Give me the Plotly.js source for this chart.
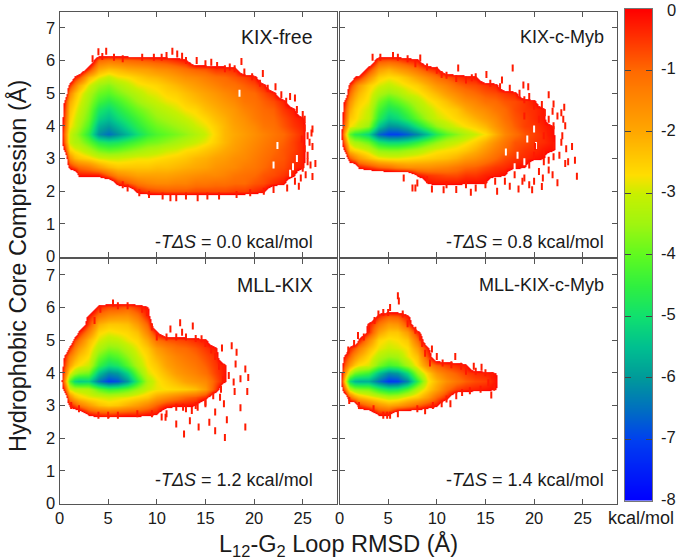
<!DOCTYPE html>
<html><head><meta charset="utf-8">
<script src="https://cdn.plot.ly/plotly-3.0.1.min.js"></script>
<style>html,body{margin:0;padding:0;background:#fff}</style></head>
<body><div id="chart" style="width:680px;height:559px"></div>
<script>
const E = 1; // empty bin
const rmsd = [0,0.5,1,1.5,2,3,4,5,6,7,8,9,10,11,12,13,14,15,16,17,18,19,20,21,22,23,24,25,26,27];
const compression = [6.5,6.25,6,5.75,5.5,5.25,5,4.75,4.5,4.25,4,3.75,3.5,3.25,3,2.75,2.5,2.25,2,1.75,1.5];
const panelNames = ['KIX-free','KIX-c-Myb','MLL-KIX','MLL-KIX-c-Myb'];
const entropyLabels = ['0.0','0.8','1.2','1.4'];
const xTicks = [0,5,10,15,20,25];
const yTicks = [0,1,2,3,4,5,6,7];
const barTicks = [0,-1,-2,-3,-4,-5,-6,-7,-8];
const barValues = [-8,-7.5,-7,-6.5,-6,-5.5,-5,-4.5,-4,-3.5,-3,-2.7,-2.5,-2,-1.5,-1,-0.5,0];
const energyLevels = [-8,-7,-6.5,-6,-5.5,-5,-4.5,-4,-3.5,-3,-2.7,-2,-1,0];
const energyColors = ['#0000ff','#0040f0','#0070c0','#009a9a','#00c090','#10e070','#30f040','#60fa20','#a0f510','#c8f000','#ffde00','#ffa800','#ff6a00','#ff0000'];

const kixFree = [
[],[],
[E,E,E,E,E,E,-1,-1.2,-1.1,-1,-.9,-.8,-.7,-.6,-.4,-.2],
[E,E,E,E,E,-.5,-2,-2.3,-2.2,-2,-1.9,-1.8,-1.6,-1.5,-1.3,-1.1,-.9,-.8,-.5,-.5,-.4],
[E,E,E,-.2,-.6,-2.2,-2.8,-3.1,-2.8,-2.7,-2.5,-2.3,-2.2,-2,-1.8,-1.6,-1.5,-1.3,-1.1,-1,-.8,-.6,-.3],
[E,E,-.4,-1.3,-2,-2.9,-3.5,-3.7,-3.4,-3.1,-2.8,-2.7,-2.6,-2.4,-2.2,-2,-1.8,-1.6,-1.4,-1.2,-1.1,-.9,-.7,-.3],
[E,E,-1.4,-2.2,-2.6,-3.3,-3.9,-4.1,-3.8,-3.5,-3.2,-2.9,-2.8,-2.6,-2.5,-2.3,-2.1,-1.9,-1.7,-1.5,-1.3,-1.1,-1,-.7,-.3],
[E,-.2,-2,-2.5,-2.8,-3.5,-4.3,-4.6,-4.3,-3.9,-3.5,-3.2,-3,-2.8,-2.7,-2.5,-2.3,-2.1,-1.9,-1.7,-1.5,-1.2,-1.1,-.9,-.7,-.3],
[E,-.5,-2.3,-2.7,-3,-3.7,-4.8,-5.1,-4.7,-4.3,-3.9,-3.6,-3.3,-3.1,-2.9,-2.7,-2.6,-2.3,-2.1,-1.9,-1.7,-1.4,-1.2,-1,-.9,-.5,-.2],
[E,-.7,-2.5,-2.9,-3.2,-3.9,-5.2,-5.5,-5.1,-4.7,-4.3,-3.9,-3.6,-3.4,-3.2,-3,-2.8,-2.6,-2.3,-2.1,-1.8,-1.6,-1.3,-1.1,-1,-.7,-.4,-.2],
[E,-.9,-2.7,-3,-3.4,-4.2,-5.7,-6,-5.6,-5.1,-4.6,-4.2,-3.9,-3.7,-3.5,-3.3,-3,-2.8,-2.5,-2.2,-1.9,-1.7,-1.5,-1.2,-1.1,-.8,-.5,-.3],
[E,-1.2,-3,-3.4,-3.7,-4.6,-6.1,-6.5,-6.1,-5.6,-5,-4.5,-4.2,-4,-3.8,-3.6,-3.3,-3,-2.6,-2.2,-2,-1.8,-1.6,-1.4,-1.2,-1,-.7,-.4],
[E,-1,-3,-3.3,-3.4,-4,-4.7,-4.9,-4.8,-4.5,-4.2,-3.9,-3.8,-3.6,-3.4,-3.2,-3,-2.8,-2.5,-2.2,-1.9,-1.7,-1.5,-1.3,-1.1,-.9,-.6,-.3],
[E,-.2,-2.5,-2.8,-2.9,-3.3,-3.8,-4,-3.9,-3.7,-3.5,-3.3,-3.2,-3,-2.9,-2.7,-2.6,-2.4,-2.2,-2,-1.8,-1.6,-1.4,-1.2,-1,-.8,-.6,-.3],
[E,E,-1.6,-2.2,-2.4,-2.6,-2.9,-3,-3,-2.9,-2.8,-2.8,-2.7,-2.6,-2.5,-2.4,-2.2,-2.1,-1.9,-1.8,-1.6,-1.5,-1.3,-1.1,-.9,-.8,-.5,-.3],
[E,E,-.3,-.7,-1,-1.3,-1.8,-2.2,-2.4,-2.4,-2.4,-2.4,-2.3,-2.3,-2.2,-2.1,-2,-1.9,-1.7,-1.6,-1.5,-1.3,-1.2,-1,-.8,-.7,-.4,-.2],
[E,E,E,E,-.2,-.2,-.2,-.9,-1.5,-1.7,-1.9,-1.9,-1.9,-1.9,-1.8,-1.7,-1.6,-1.5,-1.5,-1.4,-1.2,-1.1,-1,-.8,-.7,-.5,-.2],
[E,E,E,E,E,E,E,E,-.3,-.8,-1.2,-1.4,-1.5,-1.5,-1.4,-1.4,-1.2,-1.2,-1.1,-1.1,-1,-1,-.8,-.7,-.4,-.2],
[E,E,E,E,E,E,E,E,E,E,-.3,-.6,-.7,-.8,-.8,-.8,-.7,-.7,-.7,-.7,-.6,-.6,-.4,-.2],
[],[]];

const kixMyb = [
[],[],
[E,E,E,E,E,E,-.7,-.8,-.7,-.4,-.2],
[E,E,E,E,E,-.5,-1.8,-2.1,-1.8,-1.5,-1.1,-.6,-.3],
[E,E,E,-.1,-.3,-1.6,-2.5,-2.7,-2.6,-2.3,-1.9,-1.5,-1.1,-.8,-.5,-.3,-.2],
[E,E,-.4,-1.2,-1.8,-2.5,-2.9,-3.1,-2.9,-2.7,-2.5,-2.1,-1.7,-1.4,-1,-.8,-.7,-.5,-.3],
[E,E,-1,-1.8,-2.2,-2.7,-3.3,-3.6,-3.4,-3,-2.8,-2.5,-2.2,-1.8,-1.5,-1.2,-1,-.8,-.7,-.5,-.3],
[E,-.2,-1.6,-2.2,-2.5,-2.8,-3.8,-4.3,-4,-3.6,-3.2,-2.8,-2.6,-2.3,-1.9,-1.6,-1.4,-1.1,-1,-.8,-.7,-.5,-.2],
[E,-.6,-2,-2.5,-2.7,-3,-4.2,-4.8,-4.6,-4.1,-3.5,-3.1,-2.8,-2.6,-2.4,-2,-1.7,-1.5,-1.2,-1,-.7,-.5,-.4,-.2],
[E,-.8,-2.4,-2.6,-2.8,-3.1,-4.6,-5.3,-5.1,-4.6,-4,-3.4,-3,-2.8,-2.6,-2.4,-2.1,-1.8,-1.5,-1.1,-.8,-.6,-.4,-.2],
[E,-1.2,-2.7,-2.9,-3.1,-3.6,-5.4,-6.1,-6,-5.6,-4.9,-4.2,-3.6,-3.2,-2.9,-2.7,-2.5,-2.2,-1.7,-1.3,-.9,-.6,-.5,-.3,-.1],
[E,-2,-4,-4.6,-4.7,-5.2,-6.6,-7,-7,-6.7,-6.2,-5.5,-4.7,-4.1,-3.7,-3.3,-3,-2.7,-2.1,-1.5,-1.1,-.8,-.6,-.4,-.1],
[E,-1.2,-3,-3.4,-3.5,-3.9,-4.8,-5.1,-5.1,-4.9,-4.5,-4,-3.6,-3.2,-3,-2.8,-2.5,-2.1,-1.6,-1.2,-.8,-.7,-.5,-.4,-.2],
[E,-.2,-2.3,-2.6,-2.7,-3,-3.6,-3.7,-3.7,-3.5,-3.3,-3,-2.8,-2.7,-2.6,-2.4,-2.1,-1.7,-1.3,-1,-.7,-.5,-.4,-.2,-.1],
[E,E,-.8,-1.4,-1.8,-2.3,-2.7,-2.8,-2.8,-2.7,-2.6,-2.5,-2.4,-2.3,-2.1,-1.8,-1.6,-1.3,-1,-.7,-.5,-.4,-.2,-.1],
[E,E,E,E,-.2,-.5,-.9,-1.1,-1.4,-1.6,-1.6,-1.6,-1.5,-1.4,-1.2,-1,-.9,-.7,-.5,-.4,-.2,-.1],
[E,E,E,E,E,E,E,E,E,E,-.2,-.5,-.6,-.7,-.7,-.5,-.5,-.3,-.2,-.1],
[E,E,E,E,E,E,E,E,E,E,E,-.1,-.2,-.2,-.2,-.1,-.1,-.1],
[],[],[]];

const mllKix = [
[],[],
[E,E,E,E,E,E,-.4,-.7,-.7,-.9,-.5,-.1],
[E,E,E,E,E,-.2,-1.2,-1.6,-1.7,-1.7,-1.2,-.3],
[E,E,E,E,E,-.6,-2.1,-2.4,-2.4,-2.3,-1.8,-.9],
[E,E,E,E,-.2,-1.4,-2.6,-2.8,-2.7,-2.6,-2.3,-1.4,-.2],
[E,E,E,-.6,-1.1,-2.2,-2.9,-3.2,-3.1,-2.8,-2.6,-2,-1.1,-.8,-.7,-.6,-.4,-.2],
[E,E,-.4,-1.3,-1.8,-2.5,-3.3,-3.7,-3.6,-3.2,-2.8,-2.4,-1.8,-1.4,-1.1,-1,-.8,-.5,-.2],
[E,-.2,-1.3,-1.9,-2.3,-2.7,-3.8,-4.3,-4.1,-3.6,-3,-2.6,-2.1,-1.7,-1.4,-1.2,-1,-.7,-.4],
[E,-.6,-1.9,-2.5,-2.7,-3,-4.4,-5,-4.8,-4.1,-3.3,-2.7,-2.4,-1.9,-1.6,-1.4,-1.2,-.9,-.5,-.2],
[E,-1.1,-2.8,-3.4,-3.7,-3.9,-5.5,-6.2,-6,-5.2,-3.9,-2.9,-2.6,-2.2,-1.8,-1.6,-1.4,-1.1,-.6,-.2],
[E,-1.6,-4.1,-5.1,-5.3,-5.2,-6.4,-7,-6.8,-6,-4.6,-3.3,-2.8,-2.5,-2.2,-1.9,-1.7,-1.5,-.8,-.2],
[E,-.6,-2.9,-3.2,-3.2,-3.3,-4,-4.4,-4.3,-4,-3.5,-3,-2.8,-2.7,-2.6,-2.5,-2.3,-1.8,-.6],
[E,E,-1.5,-2.2,-2.5,-2.8,-2.9,-3,-2.9,-2.8,-2.6,-2.4,-1.9,-1.6,-1.3,-1,-.8,-.4],
[E,E,-.2,-.7,-1.2,-1.8,-2.3,-2.5,-2.4,-2.1,-1.8,-1.4,-.9,-.4,-.2,-.2,-.1],
[E,E,E,E,E,-.2,-.5,-.6,-.5,-.4,-.4,-.2,-.1],
[],[],[],[],[]];

const mllKixMyb = [
[],[],[],
[E,E,E,E,E,E,-.4,-.9,-.8,-.2],
[E,E,E,E,E,-.2,-1.2,-1.8,-1.7,-.7],
[E,E,E,E,E,-.4,-1.9,-2.4,-2.4,-1.8,-.3],
[E,E,E,E,-.2,-1.5,-2.6,-2.8,-2.7,-2.4,-1.1],
[E,E,-.3,-.8,-1.3,-2.2,-2.8,-3,-2.9,-2.7,-1.8,-.2],
[E,-.2,-.9,-1.6,-2,-2.6,-3.2,-3.5,-3.4,-2.8,-2.3,-.7],
[E,-.8,-1.8,-2.4,-2.7,-2.9,-3.8,-4.3,-4.1,-3.4,-2.6,-1.5,-.9,-.6,-.4,-.2],
[E,-1.6,-3.2,-3.9,-4.1,-4.4,-5.5,-6.2,-6,-5.1,-3.5,-2.5,-1.7,-1.2,-.9,-.6,-.4,-.3,-.1],
[E,-2.5,-5,-5.6,-5.7,-5.7,-6.5,-7.1,-7,-6.2,-4.5,-2.8,-2.2,-1.6,-1.2,-.9,-.7,-.6,-.2],
[E,-1,-3.1,-3.6,-3.7,-3.8,-4.5,-4.9,-4.8,-4.2,-3.2,-2.5,-1.9,-1.1,-.6,-.4,-.3,-.2,-.1],
[E,E,-1,-1.8,-2.2,-2.6,-2.9,-3.2,-3.1,-2.7,-2.4,-1.8,-1,-.4],
[E,E,E,E,-.5,-1.1,-1.7,-2,-1.8,-1.4,-1,-.5,-.2],
[E,E,E,E,E,E,-.2,-.2],
[],[],[],[],[]];

const scatterX1 = [11.6,12.1,12.6,14.1,17.5,18.7,20.9,22.2,23.7,24.2,25,25.9,25.2,26,26.3,25.8,26,25.3,24.6,23.4,4,4.8,25.5,24.9,3.4,4.4,5.6,6.5,8.5,9.7,10.5,11,13,15,15.6,16.2,17,18,19,19.8,20.6,21.4,22.8,23.3,24.4,25.2,8.2,9.2,10.6,11.4,12,13,14.2,15.2,16.4,18.2,19.6,21,22,6.5,7,24.2,25,25.5,26,25.7,25.2,25.5,24.8];
const scatterY1 = [6.28,6.2,6.13,6,5.8,5.97,5.6,5.2,4.9,4.85,4.35,3.78,3.93,3.37,2.85,2.8,2.45,2.5,2.15,2.1,6.27,6.28,3.1,3.6,6.05,6.12,6.1,6.05,6.1,6.1,6.1,6.15,6,5.9,5.95,5.85,5.75,5.75,5.65,5.5,5.3,5.15,4.95,4.75,4.5,4.2,1.95,1.9,1.85,1.8,1.8,1.85,1.8,1.85,1.85,1.9,1.95,2,2.05,2.2,2.1,2.3,2.7,3.7,3.9,3.5,3.3,2.9,2.4];
const scatterX2 = [17.8,23.1,21.5,22,20.8,23.2,22.4,23.9,22.8,24.2,23.5,23.2,24.4,21.9,22.4,20.8,19.8,18.4,16.2,13.5,10.7,9.5,7.5,6.6,21.5,20.1,21.5,21.1,19.4,18.9,16.7,15.1,13.6,12.2,10.5,8.3,19.5,20,19,20.5,21.5,22,21,20,21,22,21,19.5,20.5,19,18,17,16,15,14,13,12,11,9,8,7.8,17.5,18.8,20,22.6,3.4,4.2,5.5,6,7,7.8,9,10,11,12,13,14,15.5,16.5,17.5,18.5,19,22.9,23.3,22,21.5,20.9,19.5,23,22.8,21.9];
const scatterY2 = [5.77,4.57,4.95,4.67,4.65,4,4.3,3.37,3.5,2.95,2.9,2.85,2.46,2.5,2.26,2.14,2.04,2.07,2,1.97,2.04,2.07,2.1,2.4,2.95,3.37,3.78,4.4,5.2,5.25,5.4,5.57,5.47,5.77,5.57,6.08,4.9,4.6,4.3,4.2,4.2,4,3.7,3.1,3.2,3.4,2.9,2.8,2.6,2.4,2.5,2.3,2.3,2.2,2.1,2.2,2.05,2.2,2.35,2.25,2.1,2.15,2.3,2.3,3.1,6.1,6.1,6.15,6.1,6.05,5.9,5.8,5.7,5.55,5.45,5.4,5.5,5.3,5.2,5.15,5,4.8,3.7,3.3,3.05,2.65,2.4,2.2,4.2,4.4,4.45];
const scatterX3 = [5.5,12.4,13.7,11.4,12.6,14.6,16.7,17.7,18.2,18.1,19.1,19.4,18.6,17.4,16.9,17.9,19.3,18,16.5,16.9,18.6,16,17.2,15.4,14.3,19.1,16,17,12.8,12,13.4,12.7,13.6,14.2,15,10.9,3.6,4.2,6,7,8.5,9,9.5,10,11,12,13,14,15,15.6,16,16.4,16.8,16.6,15.8,15,14,13,12,11,10.5,9.5,8,6,4,5,2,1.2];
const scatterY3 = [6.14,5.53,5.43,5.34,5.24,5.04,4.76,4.83,4.63,4.27,4.12,3.86,3.82,3.92,4.17,3.72,3.43,3.43,3.25,3.05,2.93,2.8,2.56,2.49,2.34,2.34,2.23,2.02,2.13,2.43,2.53,2.95,2.85,2.95,3.05,2.64,5.6,5.95,6.05,6.05,5.95,5.85,5.4,5.1,5.1,5.1,5.1,5.05,4.9,4.7,4.5,4.2,3.8,3.5,3.3,3.1,3,2.9,2.95,2.75,2.65,2.75,2.75,2.7,2.7,2.7,2.9,3];
const scatterX4 = [6,6.1,5.2,3,1.9,9.5,10,11.9,13.8,14.6,15.7,15.9,15.6,11.4,10.5,8.8,4.9,.9,1.5,2.5,3,3.6,4,4.5,5,6.5,7,7.8,8.3,8.5,8.8,9.3,10.6,11.5,12.5,13,14,15,15.3,14.5,13.4,12.6,12,11,9.6,8,6,5.2,4.5,3.5,2,1];
const scatterY4 = [6.36,6.2,6,5.34,5.14,4.73,4.5,4.5,4.2,4.17,3.91,3.56,3.32,3.05,3.05,2.84,2.7,4.7,4.9,5.1,5.4,5.6,5.8,5.85,5.85,5.8,5.5,5.3,5.1,4.9,4.6,4.3,4.3,4.25,4.2,4.05,4.05,4,3.7,3.5,3.45,3.4,3.3,3.2,3,2.9,2.75,2.7,2.7,2.9,3,3.15];
const holesX1 = [18.5,22.4,22,23.7,24.4,24];
const holesY1 = [5,3.4,2.8,2.55,3,2.75];
const holesX2 = [17.1,19.3,20,20.2,18.3,19,18];
const holesY2 = [3.2,3.6,3.9,3.4,3.1,2.9,2.75];
const holesX3 = [];
const holesY3 = [];
const holesX4 = [];
const holesY4 = [];

const grids = [kixFree,kixMyb,mllKix,mllKixMyb];
const scatterXs = [scatterX1,scatterX2,scatterX3,scatterX4];
const scatterYs = [scatterY1,scatterY2,scatterY3,scatterY4];
const holesXs = [holesX1,holesX2,holesX3,holesX4];
const holesYs = [holesY1,holesY2,holesY3,holesY4];
const nameSizes = [19.5,18,19.5,18];

const zmin=-8, zmax=1;
const norm = v => (v-zmin)/(zmax-zmin);
const scale = energyLevels.map((l,i)=>[norm(l),energyColors[i]]);
scale.push([norm(0)+0.0005,'rgba(255,0,0,0)'],[1,'rgba(255,0,0,0)']);

const W=680,H=559;
const px = v=>v/W, py = v=>1-v/H;
const boxes = [[59.5,336.5,11.5,256.5],[339.5,616.5,11.5,256.5],[59.5,336.5,258.5,503.5],[339.5,616.5,258.5,503.5]];
const textRight = [314.5,605.5,314.5,605.5];
const nameY = [36.5,36.5,285,285];
const entropyY = [242,242,479.5,479.5];
const ink='#555';
const layout = {width:W,height:H,margin:{l:0,r:0,t:0,b:0},paper_bgcolor:'#fff',plot_bgcolor:'#fff',showlegend:false,
  font:{family:'"Liberation Sans",Arial,sans-serif',color:'#1a1a1a',size:16},annotations:[]};
const data=[];
grids.forEach((g,i)=>{
  const n=i+1, xa='x'+(n>1?n:''), ya='y'+(n>1?n:'');
  const b=boxes[i];
  const z=g.map(r=>rmsd.map((_,k)=>k<r.length?r[k]:E)).reverse();
  data.push({type:'heatmap',x:rmsd,y:compression.slice().reverse(),z:z,xaxis:xa,yaxis:ya,zmin,zmax,colorscale:scale,zsmooth:'best',showscale:false,hoverinfo:'skip'});
  data.push({type:'scatter',mode:'markers',x:holesXs[i],y:holesYs[i],xaxis:xa,yaxis:ya,hoverinfo:'skip',
    marker:{symbol:'line-ns',size:5,color:'#fff',line:{color:'#fff',width:2}}});
  data.push({type:'scatter',mode:'markers',x:scatterXs[i],y:scatterYs[i],xaxis:xa,yaxis:ya,hoverinfo:'skip',
    marker:{symbol:'line-ns',size:5,color:'#ff1a00',line:{color:'#ff1a00',width:2}}});
  layout['xaxis'+(n>1?n:'')]={domain:[px(b[0]),px(b[1])],anchor:ya,range:[0,28.47],tickvals:xTicks,ticks:'inside',ticklen:5,tickcolor:ink,
    mirror:'ticks',showline:true,linecolor:ink,linewidth:1,showgrid:false,zeroline:false,showticklabels:i>=2,tickfont:{size:16.5},ticklabeloverflow:'allow'};
  layout['yaxis'+(n>1?n:'')]={domain:[py(b[3]),py(b[2])],anchor:xa,range:[0,7.5],tickvals:yTicks,ticks:'inside',ticklen:5,tickcolor:ink,
    mirror:'ticks',showline:true,linecolor:ink,linewidth:1,showgrid:false,zeroline:false,showticklabels:i%2===0,tickfont:{size:16.5}};
  layout.annotations.push({xref:'paper',yref:'paper',x:px(textRight[i]),y:py(nameY[i]),xanchor:'right',yanchor:'middle',showarrow:false,text:panelNames[i],font:{size:nameSizes[i]}});
  layout.annotations.push({xref:'paper',yref:'paper',x:px(textRight[i]),y:py(entropyY[i]),xanchor:'right',yanchor:'middle',showarrow:false,text:'-<i>TΔS</i> = '+entropyLabels[i]+' kcal/mol',font:{size:18}});
});
// colour key drawn as a small heatmap on its own axes
data.push({type:'heatmap',x:[0,1],y:barValues,z:barValues.map(v=>[v,v]),xaxis:'x5',yaxis:'y5',zmin,zmax,colorscale:scale,zsmooth:'best',showscale:false,hoverinfo:'skip'});
layout.xaxis5={domain:[px(625),px(652)],anchor:'y5',range:[0,1],showticklabels:false,ticks:'',showline:true,mirror:true,linecolor:'#777',linewidth:1,showgrid:false,zeroline:false};
layout.yaxis5={domain:[py(500.7),py(8.7)],anchor:'x5',side:'right',range:[-8,0],tickvals:barTicks,showticklabels:false,ticks:'inside',ticklen:6,tickcolor:'#444',
  mirror:'ticks',showline:true,linecolor:'#777',linewidth:1,showgrid:false,zeroline:false};
barTicks.forEach(t=>layout.annotations.push({xref:'paper',yref:'y5',x:px(678),y:t,yshift:t===0?-1:2,xanchor:'right',yanchor:'middle',showarrow:false,text:String(t),font:{size:16.5}}));
layout.annotations.push({xref:'paper',yref:'paper',x:px(606),y:py(518),xanchor:'left',yanchor:'middle',showarrow:false,text:'kcal/mol',font:{size:18}});
layout.annotations.push({xref:'paper',yref:'paper',x:px(17),y:py(266),textangle:-90,xanchor:'center',yanchor:'middle',showarrow:false,text:'Hydrophobic Core Compression (Å)',font:{size:23.5}});
layout.annotations.push({xref:'paper',yref:'paper',x:px(338),y:py(545),xanchor:'center',yanchor:'middle',showarrow:false,text:'L<sub>12</sub>-G<sub>2</sub> Loop RMSD (Å)',font:{size:23.5}});
Plotly.newPlot('chart',data,layout,{displayModeBar:false,staticPlot:true});
</script></body></html>
